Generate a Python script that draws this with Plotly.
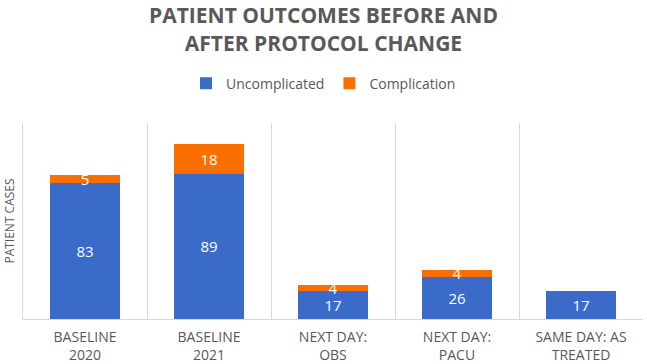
import plotly.graph_objects as go

categories = ["BASELINE<br>2020", "BASELINE<br>2021", "NEXT DAY:<br>OBS", "NEXT DAY:<br>PACU", "SAME DAY: AS<br>TREATED"]
uncomplicated = [83, 89, 17, 26, 17]
complication = [5, 18, 4, 4, None]

BLUE = "#3A6BC8"
ORANGE = "#FA7000"
GRAY = "#595959"

fig = go.Figure()
for name, vals, col in [("Uncomplicated", uncomplicated, BLUE), ("Complication", complication, ORANGE)]:
    fig.add_trace(go.Bar(
        name=name, x=categories, y=vals, marker_color=col, marker_line_width=0,
        text=vals, textposition="inside", insidetextanchor="middle", textangle=0,
        constraintext="none", textfont=dict(color="white", size=15, family="Open Sans"),
    ))

fig.update_layout(
    barmode="stack",
    bargap=0.44,
    width=647, height=364,
    margin=dict(l=23, r=4, t=123, b=45, autoexpand=False),
    paper_bgcolor="white", plot_bgcolor="white",
    font=dict(family="Open Sans", color=GRAY),
    title=dict(
        text="PATIENT OUTCOMES BEFORE AND<br>AFTER PROTOCOL CHANGE",
        x=0.5, xanchor="center", xref="container",
        y=0.936, yanchor="top", yref="container",
        font=dict(size=21, color=GRAY, family="Open Sans", weight="bold"),
    ),
    legend=dict(
        orientation="h", x=0.5, xanchor="center", xref="container",
        y=0.77, yanchor="middle", yref="container",
        font=dict(size=14, color=GRAY), traceorder="normal",
        itemwidth=30,
    ),
    uniformtext=dict(minsize=15, mode="show"),
)
fig.update_xaxes(
    type="category", tickson="boundaries", showgrid=True, gridcolor="#D9D9D9",
    showline=True, linecolor="#D9D9D9", ticks="", automargin=False,
    tickfont=dict(size=14, color=GRAY), ticklabelstandoff=5, fixedrange=True,
)
fig.update_yaxes(
    range=[0, 120], showticklabels=False, showgrid=False, zeroline=False,
    showline=True, linecolor="#D9D9D9", automargin=False, fixedrange=True,
    title=dict(text="PATIENT CASES", font=dict(size=12, color=GRAY), standoff=4),
)

fig.write_html("out.html", config={"displayModeBar": False},
               post_script="document.body.style.margin='0';")
